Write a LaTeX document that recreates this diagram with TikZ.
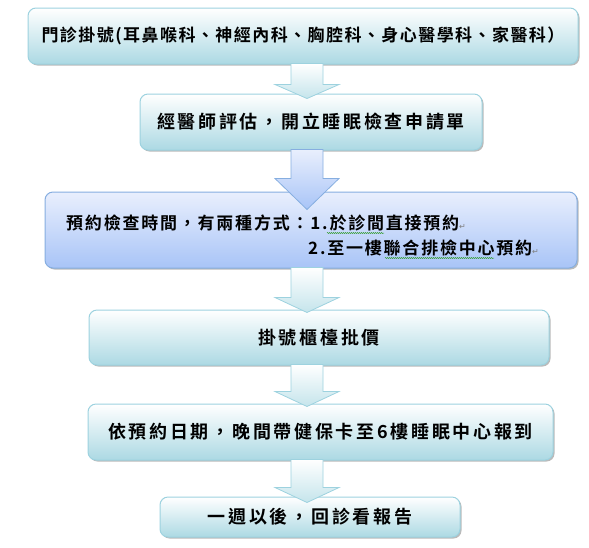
\documentclass[tikz,border=0pt]{standalone}
\usepackage{fontspec}
\usepackage{tikz}
\usetikzlibrary{calc,shadows,decorations.pathmorphing}
\newfontfamily\cjk{Noto Sans CJK TC Bold}[LetterSpace=15]
\newfontfamily\cjkmid{Noto Sans CJK TC Bold}[LetterSpace=10.5]
\newfontfamily\cjknarrow{Noto Sans CJK TC Bold}[LetterSpace=8.5]
\newfontfamily\retfont{DejaVu Sans}
\newcommand{\retmark}{{\retfont\fontsize{8}{8}\selectfont\color{gray}↵}}
\definecolor{tealfill}{HTML}{ACD9E3}
\definecolor{tealline}{HTML}{9DD2DF}
\definecolor{bluetop}{HTML}{E9EFFD}
\definecolor{bluefill}{HTML}{A8C4F7}
\definecolor{blueline}{HTML}{86AEE0}
\definecolor{spellgreen}{HTML}{3FA03F}
\tikzset{
  flowbox/.style={rounded corners=8pt, draw=tealline, line width=1pt,
    top color=white, bottom color=tealfill, inner sep=0pt,
    drop shadow={shadow xshift=1.5pt, shadow yshift=-1.5pt, fill=black!45, opacity=.6},
    font=\cjk\fontsize{18}{20}\selectfont},
  bluebox/.style={flowbox, draw=blueline, top color=bluetop, bottom color=bluefill},
  notetext/.style={anchor=west, inner sep=0pt, font=\cjkmid\fontsize{17}{19}\selectfont},
  flowarrow/.style={draw=tealline, line width=0.8pt, top color=white, bottom color=tealfill!70},
  bluearrow/.style={draw=blueline, line width=0.8pt, top color=bluetop, bottom color=bluefill},
  spellmark/.style={spellgreen, line width=0.5pt, decorate,
    decoration={snake, amplitude=0.6pt, segment length=2pt}}
}
\begin{document}
\begin{tikzpicture}[x=1pt,y=-1pt]
\useasboundingbox (0,0) rectangle (589,547);
\coordinate (ax) at (307,0);
% boxes
\node[flowbox,minimum width=550pt,minimum height=56pt,font=\cjknarrow\fontsize{17}{19}\selectfont] (b1) at (303,36) {門診掛號(耳鼻喉科、神經內科、胸腔科、身心醫學科、家醫科）};
\node[flowbox,minimum width=342pt,minimum height=56pt] (b2) at (311,122) {經醫師評估，開立睡眠檢查申請單};
\node[bluebox,minimum width=532pt,minimum height=76pt] (b3) at (311,230) {};
\node[notetext] (t3a) at (66,223) {預約檢查時間，有兩種方式：1.於診間直接預約\retmark};
\node[notetext] (t3b) at (308,248) {2.至一樓聯合排檢中心預約\retmark};
\node[flowbox,minimum width=460pt,minimum height=55pt] (b4) at (319,337.5) {掛號櫃檯批價};
\node[flowbox,minimum width=465pt,minimum height=56pt] (b5) at (320.5,432) {依預約日期，晚間帶健保卡至6樓睡眠中心報到};
\node[flowbox,minimum width=300pt,minimum height=40pt] (b6) at (310,517) {一週以後，回診看報告};
% spelling marks
\draw[spellmark] (327,233) -- (384,233);
\draw[spellmark] (385,258) -- (494,258);
% block arrows: from/to/style/head length/overlap
\foreach \a/\b/\s/\h/\o in {b1/b2/flowarrow/14/5, b2/b3/bluearrow/31/18, b3/b4/flowarrow/15/3, b4/b5/flowarrow/15/3, b5/b6/flowarrow/15/6}
  \path[\s] ($(ax|-\a.south)+(-16,-1)$) -- ($(ax|-\b.north)+(-16,\o-\h)$)
    -- ($(ax|-\b.north)+(-32,\o-\h)$) -- ($(ax|-\b.north)+(0,\o)$)
    -- ($(ax|-\b.north)+(32,\o-\h)$) -- ($(ax|-\b.north)+(16,\o-\h)$)
    -- ($(ax|-\a.south)+(16,-1)$) -- cycle;
\end{tikzpicture}
\end{document}
